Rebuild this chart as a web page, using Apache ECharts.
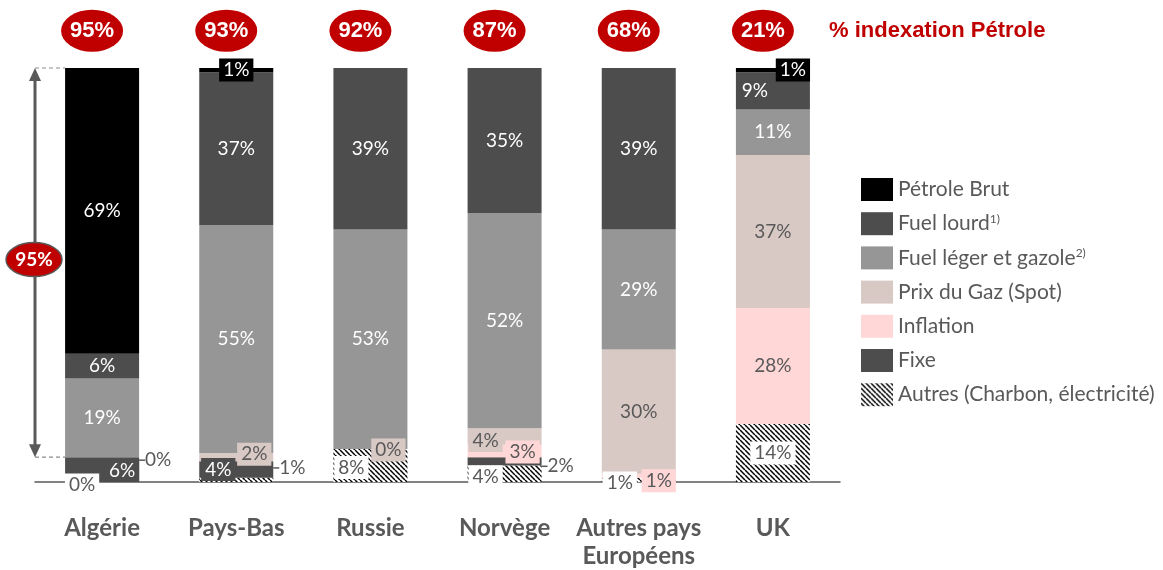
<!DOCTYPE html>
<html>
<head>
<meta charset="utf-8">
<script src="https://cdn.jsdelivr.net/npm/echarts@6/dist/echarts.min.js"></script>
<style>
  html, body { margin: 0; padding: 0; background: #fff; }
  #chart { width: 1163px; height: 570px; }
</style>
</head>
<body>
<div id="chart"></div>
<script>
// données (en %)
const categories = ['Algérie', 'Pays-Bas', 'Russie', 'Norvège', 'Autres pays\nEuropéens', 'UK'];
const petroleBrut = [69, 1, 0, 0, 0, 1];
const fuelLourd = [6, 37, 39, 35, 39, 9];
const fuelLeger = [19, 55, 53, 52, 29, 11];
const prixGaz = [0, 2, 0, 4, 30, 37];
const inflation = [0, 0, 0, 3, 1, 28];
const fixe = [6, 4, 0, 2, 0, 0];
const autres = [0, 1, 8, 4, 1, 14];
const indexationPetrole = [95, 93, 92, 87, 68, 21];
const indexationAlgerie = 95;

const FONT = 'Lato, "Open Sans", sans-serif';
const ARIAL = '"Liberation Sans", Arial, sans-serif';
const GRIS = '#595959';
const ROUGE = '#C00000';
const BADGE_Y = 109; // hauteur des pastilles au-dessus des barres

// motif hachuré pour "Autres"
function hachures() {
  const s = 5;
  const c = document.createElement('canvas');
  c.width = s; c.height = s;
  const ctx = c.getContext('2d');
  ctx.fillStyle = '#fff';
  ctx.fillRect(0, 0, s, s);
  ctx.strokeStyle = '#000';
  ctx.lineWidth = 1.5;
  for (const dx of [-s, 0, s]) {
    ctx.beginPath();
    ctx.moveTo(dx, 0);
    ctx.lineTo(dx + s, s);
    ctx.stroke();
  }
  return c;
}

// étiquette à côté de la barre, avec petit trait de rappel
const cote = {
  position: 'right',
  distance: 0,
  color: GRIS,
  backgroundColor: 'transparent',
  padding: 0,
  formatter: '{t|}{c}%',
  rich: { t: { width: 6, height: 1.5, backgroundColor: GRIS, padding: 0 } }
};

// réglages particuliers des étiquettes (série -> index de catégorie)
const labelFix = {
  petrole: {
    1: { backgroundColor: '#000', padding: [2, 4] },
    5: { backgroundColor: '#000', padding: [2, 4], offset: [20, 0] }
  },
  lourd: { 5: { offset: [-18, 0] } },
  leger: {},
  gaz: {
    0: Object.assign({ show: true, offset: [0, 3] }, cote),
    1: { offset: [18, -3] },
    2: { show: true, offset: [18, 1] },
    3: { offset: [-19, 4] }
  },
  inflation: {
    3: { offset: [18, 1] },
    4: { offset: [20, 5] }
  },
  fixe: {
    0: { offset: [20, 1] },
    1: { offset: [-18, 0] },
    3: Object.assign({ offset: [0, 5] }, cote)
  },
  autres: {
    0: { show: true, offset: [-20, 3] },
    1: Object.assign({ offset: [0, -12] }, cote),
    2: { offset: [-19, 2] },
    3: { offset: [-19, 3] },
    4: { offset: [-19, 3] }
  }
};

function serie(name, key, values, color, label) {
  return {
    name: name,
    type: 'bar',
    stack: 'total',
    barWidth: 74,
    itemStyle: { color: color },
    label: Object.assign({
      show: true,
      position: 'inside',
      formatter: '{c}%',
      fontFamily: FONT,
      fontSize: 19
    }, label),
    data: values.map((v, i) => {
      const fix = labelFix[key][i] || {};
      const show = fix.show !== undefined ? fix.show : v > 0;
      return { value: v, label: Object.assign({}, fix, { show: show }) };
    })
  };
}

const chart = echarts.init(document.getElementById('chart'));

const sup = { 'Fuel lourd': '1)', 'Fuel léger et gazole': '2)' };

const option = {
  animation: false,
  grid: { left: 35, right: 323, top: 68, bottom: 88 },
  title: {
    text: '% indexation Pétrole',
    left: 824,
    top: 15,
    textStyle: { fontFamily: ARIAL, fontSize: 22, fontWeight: 'bold', color: ROUGE }
  },
  legend: {
    orient: 'vertical',
    left: 856,
    top: 173,
    itemWidth: 32,
    itemHeight: 23,
    itemGap: 11.2,
    icon: 'rect',
    selectedMode: false,
    data: ['Pétrole Brut', 'Fuel lourd', 'Fuel léger et gazole', 'Prix du Gaz (Spot)', 'Inflation', 'Fixe', 'Autres (Charbon, électricité)'],
    formatter: name => sup[name] ? name + '{s|' + sup[name] + '}' : name,
    textStyle: {
      fontFamily: FONT,
      fontSize: 21,
      color: GRIS,
      rich: { s: { fontFamily: FONT, fontSize: 12, color: GRIS, verticalAlign: 'top', lineHeight: 14 } }
    }
  },
  xAxis: {
    type: 'category',
    data: categories,
    axisLine: { lineStyle: { color: GRIS, width: 1.5 } },
    axisTick: { show: false },
    axisLabel: {
      fontFamily: FONT,
      fontSize: 24,
      fontWeight: 'bold',
      color: GRIS,
      lineHeight: 28,
      margin: 32,
      interval: 0
    }
  },
  yAxis: { type: 'value', min: 0, max: 100, show: false },
  series: [
    serie('Autres (Charbon, électricité)', 'autres', autres, { image: hachures(), repeat: 'repeat' },
      { color: GRIS, backgroundColor: '#fff', padding: [2, 4] }),
    serie('Fixe', 'fixe', fixe, '#4D4D4D',
      { color: '#fff', backgroundColor: '#4D4D4D', padding: [2, 4] }),
    serie('Inflation', 'inflation', inflation, '#FFD7D7',
      { color: GRIS, backgroundColor: '#FFD7D7', padding: [2, 4] }),
    serie('Prix du Gaz (Spot)', 'gaz', prixGaz, '#D9C9C5',
      { color: GRIS, backgroundColor: '#D9C9C5', padding: [2, 4] }),
    serie('Fuel léger et gazole', 'leger', fuelLeger, '#969696', { color: '#fff' }),
    serie('Fuel lourd', 'lourd', fuelLourd, '#4D4D4D', { color: '#fff' }),
    serie('Pétrole Brut', 'petrole', petroleBrut, '#000', { color: '#fff' }),
    {
      name: 'indexation',
      type: 'scatter',
      clip: false,
      symbol: 'circle',
      symbolSize: [62, 42],
      symbolOffset: [-10, 0],
      itemStyle: { color: ROUGE, opacity: 1 },
      label: {
        show: true,
        position: 'inside',
        formatter: p => p.value[2] + '%',
        fontFamily: ARIAL,
        fontSize: 22,
        fontWeight: 'bold',
        color: '#fff'
      },
      data: indexationPetrole.map((v, i) => [i, BADGE_Y, v])
    }
  ]
};

chart.setOption(option);

// flèche de gauche : de 100 % jusqu'au haut du segment fixe de l'Algérie
const haut = chart.convertToPixel({ seriesIndex: 0 }, [0, 100]);
const bas = chart.convertToPixel({ seriesIndex: 0 }, [0, fixe[0]]);
const xa = 35;
const xb = haut[0] - 37;
const ym = (haut[1] + bas[1]) / 2 - 3;
chart.setOption({
  graphic: [
    { type: 'line', shape: { x1: xa, y1: haut[1], x2: xb, y2: haut[1] }, style: { stroke: '#8C8C8C', lineWidth: 1.2, lineDash: [4, 3] } },
    { type: 'line', shape: { x1: xa, y1: bas[1], x2: xb, y2: bas[1] }, style: { stroke: '#8C8C8C', lineWidth: 1.2, lineDash: [4, 3] } },
    { type: 'line', shape: { x1: xa, y1: haut[1] + 10, x2: xa, y2: bas[1] - 10 }, style: { stroke: GRIS, lineWidth: 3 } },
    { type: 'polygon', shape: { points: [[xa, haut[1]], [xa - 6, haut[1] + 13], [xa + 6, haut[1] + 13]] }, style: { fill: GRIS } },
    { type: 'polygon', shape: { points: [[xa, bas[1]], [xa - 6, bas[1] - 13], [xa + 6, bas[1] - 13]] }, style: { fill: GRIS } },
    { type: 'ellipse', shape: { cx: 34, cy: ym, rx: 28, ry: 17 }, style: { fill: ROUGE, stroke: GRIS, lineWidth: 1.5 } },
    {
      type: 'text',
      x: 34,
      y: ym,
      style: {
        text: indexationAlgerie + '%',
        fontFamily: FONT,
        fontSize: 19,
        fontWeight: 'bold',
        fill: '#fff',
        align: 'center',
        verticalAlign: 'middle'
      }
    }
  ]
});
</script>
</body>
</html>
